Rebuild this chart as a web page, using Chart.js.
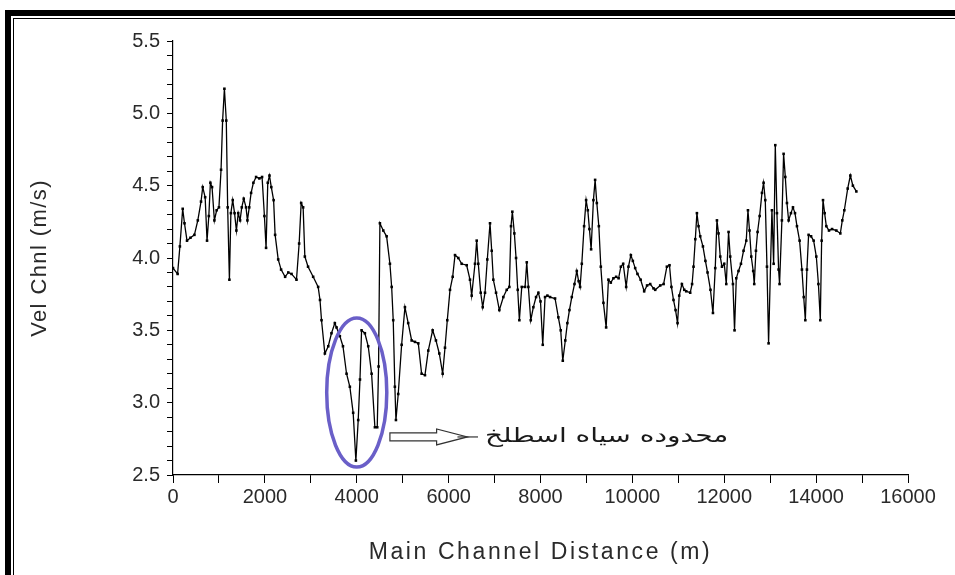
<!DOCTYPE html>
<html>
<head>
<meta charset="utf-8">
<script src="https://cdn.jsdelivr.net/npm/chart.js@4.4.1/dist/chart.umd.min.js"></script>
<style>
  html, body { margin: 0; padding: 0; background: #fff; overflow: hidden; }
  #box { width: 955px; height: 575px; }
</style>
</head>
<body>
<div id="box"><canvas id="graficoVelocidade"></canvas></div>
<script>
'use strict';

// distancia ao longo do canal principal (m)
const distancia = [
    0, 100, 150, 211, 250, 305, 380, 466, 540, 610, 647, 700, 741, 780, 814, 850, 901, 950, 1000, 1046,
    1080, 1119, 1160, 1190, 1228, 1260, 1300, 1340, 1380, 1420, 1460, 1497, 1540, 1590, 1620, 1660, 1700, 1750, 1809, 1880,
    1939, 1990, 2026, 2063, 2100, 2140, 2190, 2223, 2290, 2353, 2441, 2510, 2580, 2688, 2746, 2790, 2833, 2870, 2940, 3051,
    3160, 3200, 3233, 3306, 3380, 3450, 3523, 3560, 3632, 3700, 3778, 3850, 3922, 3981, 4032, 4070, 4105, 4177, 4250, 4323,
    4395, 4446, 4475, 4504, 4577, 4650, 4722, 4760, 4794, 4830, 4853, 4903, 4977, 5049, 5120, 5195, 5267, 5340, 5412, 5485,
    5557, 5652, 5724, 5797, 5870, 5921, 5971, 6030, 6088, 6139, 6211, 6284, 6393, 6465, 6502, 6574, 6611, 6646, 6698, 6742,
    6792, 6842, 6901, 6938, 6973, 7032, 7104, 7191, 7265, 7322, 7358, 7387, 7431, 7468, 7504, 7540, 7592, 7664, 7701, 7736,
    7788, 7845, 7903, 7954, 8000, 8049, 8099, 8150, 8208, 8317, 8389, 8440, 8485, 8540, 8585, 8630, 8681, 8740, 8790, 8830,
    8862, 8899, 8949, 8993, 9030, 9065, 9102, 9152, 9189, 9226, 9270, 9313, 9370, 9429, 9479, 9530, 9588, 9647, 9700, 9749,
    9800, 9865, 9915, 9967, 10010, 10061, 10111, 10180, 10257, 10320, 10388, 10460, 10497, 10606, 10680, 10751, 10808, 10850, 10895, 10940,
    10983, 11020, 11078, 11130, 11172, 11259, 11300, 11331, 11370, 11405, 11440, 11477, 11536, 11590, 11636, 11700, 11754, 11804, 11841, 11875,
    11913, 11950, 12000, 12044, 12094, 12130, 12189, 12224, 12262, 12310, 12364, 12420, 12479, 12516, 12550, 12588, 12630, 12653, 12690, 12725,
    12770, 12821, 12856, 12893, 12930, 12965, 13038, 13075, 13111, 13147, 13183, 13204, 13255, 13292, 13329, 13365, 13401, 13452, 13496, 13540,
    13583, 13640, 13691, 13730, 13765, 13800, 13836, 13890, 13946, 14004, 14050, 14091, 14120, 14150, 14185, 14222, 14280, 14346, 14440, 14527,
    14570, 14614, 14687, 14745, 14800, 14876
];

// velocidade no canal (m/s)
const velocidade = [
    3.93, 3.89, 4.08, 4.34, 4.24, 4.12, 4.14, 4.16, 4.26, 4.39, 4.49, 4.42, 4.12, 4.29, 4.52, 4.49, 4.26, 4.33, 4.35, 4.61,
    4.95, 5.17, 4.95, 4.35, 3.85, 4.31, 4.40, 4.31, 4.19, 4.31, 4.26, 4.35, 4.41, 4.35, 4.26, 4.35, 4.45, 4.52, 4.56, 4.55,
    4.56, 4.29, 4.07, 4.52, 4.57, 4.49, 4.40, 4.16, 3.99, 3.92, 3.87, 3.90, 3.89, 3.85, 4.10, 4.38, 4.35, 4.01, 3.94, 3.87,
    3.80, 3.71, 3.57, 3.34, 3.39, 3.48, 3.55, 3.52, 3.46, 3.39, 3.20, 3.11, 2.93, 2.60, 2.88, 3.16, 3.50, 3.48, 3.39, 3.20,
    2.83, 2.83, 3.25, 4.24, 4.19, 4.15, 3.96, 3.80, 3.57, 3.11, 2.88, 3.06, 3.40, 3.66, 3.55, 3.43, 3.42, 3.41, 3.20, 3.19,
    3.36, 3.50, 3.43, 3.34, 3.20, 3.38, 3.57, 3.78, 3.87, 4.02, 4.00, 3.96, 3.95, 3.85, 3.74, 3.96, 4.12, 3.96, 3.76, 3.66,
    3.76, 3.99, 4.24, 4.05, 3.85, 3.76, 3.64, 3.73, 3.78, 3.80, 4.22, 4.32, 4.17, 4.00, 3.78, 3.57, 3.80, 3.80, 3.97, 3.80,
    3.57, 3.66, 3.73, 3.76, 3.70, 3.40, 3.73, 3.74, 3.73, 3.72, 3.59, 3.50, 3.29, 3.43, 3.55, 3.64, 3.73, 3.82, 3.91, 3.84,
    3.80, 3.96, 4.22, 4.40, 4.33, 4.20, 4.06, 4.40, 4.54, 4.38, 4.22, 3.94, 3.69, 3.52, 3.85, 3.83, 3.86, 3.87, 3.86, 3.94,
    3.96, 3.80, 3.94, 4.02, 3.98, 3.93, 3.89, 3.85, 3.77, 3.81, 3.82, 3.79, 3.78, 3.81, 3.82, 3.94, 3.95, 3.80, 3.71, 3.64,
    3.55, 3.74, 3.82, 3.78, 3.77, 3.76, 3.82, 3.94, 4.13, 4.31, 4.22, 4.15, 4.08, 3.98, 3.90, 3.78, 3.62, 3.93, 4.26, 4.17,
    4.01, 3.94, 3.96, 3.82, 4.18, 4.01, 3.82, 3.50, 3.86, 3.91, 3.96, 4.05, 4.12, 4.33, 4.19, 4.01, 3.91, 3.82, 4.05, 4.18,
    4.29, 4.45, 4.52, 4.40, 3.94, 3.41, 4.33, 3.96, 4.78, 4.31, 3.92, 3.82, 4.26, 4.72, 4.56, 4.38, 4.26, 4.31, 4.35, 4.31,
    4.22, 4.12, 3.92, 3.73, 3.57, 3.92, 4.16, 4.15, 4.12, 4.01, 3.82, 3.57, 4.12, 4.40, 4.31, 4.22, 4.19, 4.20, 4.19, 4.17,
    4.26, 4.33, 4.48, 4.57, 4.50, 4.46
];

// eixos
const eixoX = { min: 0, max: 16000, passo: 1000, rotulo: 2000 };
const eixoY = { min: 2.5, max: 5.5, passo: 0.1, rotulo: 0.5 };

// anotacao da zona (elipse + seta + texto)
const zonaCentro = [4000, 3.07];
const zonaLimites = [3334, 4642, 2.555, 3.585];
const setaInicio = [4722, 2.763];
const setaFim = [6640, 2.763];
const textoFim = 12000;
const textoZona = 'محدوده سیاه اسطلخ';

const fonteEixo = '"Liberation Sans", Arial, sans-serif';

//========================================================================================
// espaçamento entre letras nos titulos dos eixos
function espacarTitulo(escala, espaco) {
    if (escala._espacado) return;
    const original = escala.drawTitle;
    escala.drawTitle = function () {
        const c = this.ctx;
        c.save();
        c.letterSpacing = espaco;
        original.call(this);
        c.restore();
    };
    escala._espacado = true;
}

const molduraEAnotacao = {
    id: 'molduraEAnotacao',
    beforeDraw(chart) {
        const ctx = chart.ctx;
        ctx.save();
        ctx.fillStyle = '#ffffff';
        ctx.fillRect(0, 0, chart.width, chart.height);
        // moldura preta grossa
        ctx.strokeStyle = '#000';
        ctx.lineWidth = 6;
        ctx.strokeRect(8, 13, chart.width + 20, chart.height + 20);
        ctx.lineWidth = 1;
        ctx.strokeRect(13.5, 18.5, chart.width + 20, chart.height + 20);
        ctx.restore();
    },
    afterDatasetsDraw(chart) {
        const ctx = chart.ctx;
        const x = chart.scales.x;
        const y = chart.scales.y;
        ctx.save();
        // elipse azul
        const cx = x.getPixelForValue(zonaCentro[0]);
        const cy = y.getPixelForValue(zonaCentro[1]);
        const rx = (x.getPixelForValue(zonaLimites[1]) - x.getPixelForValue(zonaLimites[0])) / 2;
        const ry = (y.getPixelForValue(zonaLimites[2]) - y.getPixelForValue(zonaLimites[3])) / 2;
        ctx.strokeStyle = '#6a5fc8';
        ctx.lineWidth = 3.5;
        ctx.beginPath();
        ctx.ellipse(cx, cy, rx, ry, 0, 0, Math.PI * 2);
        ctx.stroke();

        // seta vazada
        const x0 = x.getPixelForValue(setaInicio[0]);
        const x1 = x.getPixelForValue(setaFim[0]);
        const ya = y.getPixelForValue(setaInicio[1]);
        const corpo = x0 + (x1 - x0) * 0.53;
        const ponta = x0 + (x1 - x0) * 0.88;
        ctx.strokeStyle = '#333';
        ctx.lineWidth = 1.2;
        ctx.beginPath();
        ctx.moveTo(x0, ya - 4);
        ctx.lineTo(corpo, ya - 4);
        ctx.lineTo(corpo, ya - 8);
        ctx.lineTo(ponta, ya);
        ctx.lineTo(corpo, ya + 8);
        ctx.lineTo(corpo, ya + 4);
        ctx.lineTo(x0, ya + 4);
        ctx.closePath();
        ctx.stroke();
        ctx.beginPath();
        ctx.moveTo(ponta - 10, ya);
        ctx.lineTo(x1, ya);
        ctx.stroke();

        // texto persa, esticado na horizontal ate o fim indicado
        const xt0 = x1 + 7;
        const xt1 = x.getPixelForValue(textoFim) + 4;
        ctx.fillStyle = '#1a1a1a';
        ctx.font = '20px "DejaVu Sans", sans-serif';
        ctx.direction = 'rtl';
        ctx.textAlign = 'left';
        ctx.textBaseline = 'middle';
        const largura = ctx.measureText(textoZona).width;
        const fator = (xt1 - xt0) / largura;
        ctx.translate(xt0, ya);
        ctx.scale(fator, 1);
        ctx.textAlign = 'right';
        ctx.fillText(textoZona, largura, 0);
        ctx.restore();
    }
};

//========================================================================================
const graficoVelocidade = new Chart(document.getElementById('graficoVelocidade'), {
    type: 'line',
    data: {
        datasets: [{
            label: 'Vel Chnl',
            data: distancia.map((d, i) => ({ x: d, y: velocidade[i] })),
            borderColor: '#000',
            backgroundColor: '#000',
            borderWidth: 1.3,
            pointRadius: 0.9,
            pointStyle: 'rect',
            tension: 0
        }]
    },
    options: {
        responsive: true,
        maintainAspectRatio: false,
        animation: false,
        events: [],
        layout: { padding: { left: 20, top: 41, right: 47, bottom: 8 } },
        plugins: {
            legend: { display: false },
            tooltip: { enabled: false }
        },
        scales: {
            x: {
                type: 'linear',
                min: eixoX.min,
                max: eixoX.max,
                afterFit: s => { s.height = 92; espacarTitulo(s, '2.6px'); },
                border: { color: '#000', width: 1.2 },
                grid: { drawOnChartArea: false, drawTicks: true, tickLength: 8, color: '#000' },
                ticks: {
                    stepSize: eixoX.passo,
                    autoSkip: false,
                    maxRotation: 0,
                    padding: 2,
                    color: '#2a2a2a',
                    font: { family: fonteEixo, size: 20 },
                    callback: v => (v % eixoX.rotulo === 0 ? String(v) : '')
                },
                title: {
                    display: true,
                    text: 'Main Channel Distance (m)',
                    color: '#2a2a2a',
                    font: { family: fonteEixo, size: 23 },
                    padding: { top: 0, bottom: 1 }
                }
            },
            y: {
                min: eixoY.min,
                max: eixoY.max,
                afterFit: s => { s.width = 153; espacarTitulo(s, '1.4px'); },
                border: { color: '#000', width: 1.2 },
                grid: { drawOnChartArea: false, drawTicks: true, tickLength: 6, color: '#000' },
                ticks: {
                    stepSize: eixoY.passo,
                    autoSkip: false,
                    padding: 7,
                    color: '#2a2a2a',
                    font: { family: fonteEixo, size: 20 },
                    callback: v => {
                        const r = Math.round(v / eixoY.rotulo);
                        return Math.abs(v / eixoY.rotulo - r) < 1e-6 ? (r * eixoY.rotulo).toFixed(1) : '';
                    }
                },
                title: {
                    display: true,
                    text: 'Vel Chnl (m/s)',
                    color: '#2a2a2a',
                    font: { family: fonteEixo, size: 22 },
                    padding: { top: 7, bottom: 0 }
                }
            }
        }
    },
    plugins: [molduraEAnotacao]
});
</script>
</body>
</html>
